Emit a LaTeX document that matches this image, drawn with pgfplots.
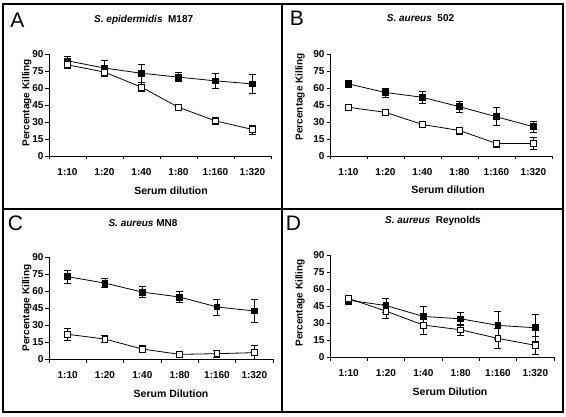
\documentclass[border=0pt]{standalone}
\usepackage{pgfplots}
\pgfplotsset{compat=1.18}
\usepackage{fontspec}
\setmainfont{Liberation Sans}
\begin{document}
\begin{tikzpicture}
\useasboundingbox (0pt,0pt) rectangle (566pt,416pt);
\pgfplotsset{
  panel/.style={
    scale only axis, anchor=south west,
    xmin=-0.5, xmax=5.5, ymin=0, ymax=90,
    axis x line=bottom, axis y line=left,
    axis line style={-, line width=0.9pt},
    ytick={0,15,...,90},
    xtick={0,...,5},
    xticklabels={1:10,1:20,1:40,1:80,1:160,1:320},
    minor xtick={-0.5,0.5,1.5,2.5,3.5,4.5,5.5},
    tick align=outside,
    every major x tick/.append style={draw=none},
    every minor x tick/.append style={line width=0.8pt, black},
    minor tick length=3.5pt,
    every major y tick/.append style={line width=0.8pt, black},
    major tick length=3.5pt,
    /pgf/number format/assume math mode=true,
    ticklabel style={font=\bfseries\fontsize{10}{11}\selectfont},
    xticklabel style={yshift=-5pt},
    yticklabel style={xshift=1.5pt},
    clip=false,
  },
  filled/.style={black, line width=0.8pt, mark=square*, mark size=2.9pt,
    mark options={solid, fill=black},
    error bars/.cd, y dir=both, y explicit,
    error bar style={line width=0.8pt, black},
    error mark options={rotate=90, mark size=3.5pt, line width=0.8pt}},
  open/.style={black, line width=0.8pt, mark=square*, mark size=2.9pt,
    mark options={solid, fill=white},
    error bars/.cd, y dir=both, y explicit,
    error bar style={line width=0.8pt, black},
    error mark options={rotate=90, mark size=3.5pt, line width=0.8pt}},
}
% frames
\draw[line width=1.1pt] (3pt,4pt) rectangle (563pt,412pt);
\draw[line width=1.1pt] (282pt,4pt) -- (282pt,412pt);
\draw[line width=1.1pt] (3pt,207pt) -- (563pt,207pt);

\newcommand{\lbl}{\fontsize{10.5}{12}\selectfont\bfseries}
\newcommand{\ylbl}{\fontsize{10}{12}\selectfont\bfseries}
\newcommand{\ttl}{\fontsize{10}{12}\selectfont\bfseries}
\newcommand{\letter}{\fontsize{21}{24}\selectfont}

% Panel A
\begin{axis}[panel, at={(49pt,260pt)}, width=222pt, height=102pt]
\addplot+[filled] coordinates {(0,84)+-(0,4) (1,77.6)+-(0,7) (2,73)+-(0,8) (3,69.6)+-(0,4) (4,66.3)+-(0,7) (5,63.6)+-(0,8)};
\addplot+[open] coordinates {(0,80.5)+-(0,3) (1,74)+-(0,3) (2,60.7)+-(0,4) (3,43)+-(0,2) (4,31)+-(0,3) (5,23.4)+-(0,4)};
\end{axis}
\node at (17.5pt,395.5pt) {\letter A};
\node at (143.7pt,396pt) {\ttl\itshape S. epidermidis\upshape\ \ M187};
\node at (171pt,225.3pt) {\lbl Serum dilution};
\node[rotate=90] at (26.7pt,313.2pt) {\ylbl Percentage Killing};

% Panel B
\begin{axis}[panel, at={(330pt,260pt)}, width=222pt, height=102pt]
\addplot+[filled] coordinates {(0,63.6)+-(0,3) (1,56)+-(0,4) (2,51.8)+-(0,5) (3,43.5)+-(0,5) (4,34.6)+-(0,8) (5,25.8)+-(0,5)};
\addplot+[open] coordinates {(0,43)+-(0,1) (1,38.5)+-(0,2) (2,27.8)+-(0,3) (3,22.5)+-(0,3) (4,11)+-(0,3) (5,11)+-(0,5)};
\end{axis}
\node at (297pt,397.5pt) {\letter B};
\node at (420.5pt,397.7pt) {\ttl\itshape S. aureus\upshape\ \ 502};
\node at (448pt,226pt) {\lbl Serum dilution};
\node[rotate=90] at (300pt,319.3pt) {\ylbl Percentage Killing};

% Panel C
\begin{axis}[panel, at={(49pt,57pt)}, width=224pt, height=102pt]
\addplot+[filled] coordinates {(0,72.6)+-(0,6) (1,67)+-(0,4) (2,59)+-(0,5) (3,54.7)+-(0,5) (4,45.9)+-(0,7) (5,42.4)+-(0,10)};
\addplot+[open] coordinates {(0,21.8)+-(0,5) (1,17.6)+-(0,3) (2,8.8)+-(0,3) (3,4.1)+-(0,3) (4,4.7)+-(0,3) (5,5.6)+-(0,6)};
\end{axis}
\node at (15.5pt,192.5pt) {\letter C};
\node at (143pt,193pt) {\ttl\itshape S. aureus\upshape\ MN8};
\node at (171pt,22.3pt) {\lbl Serum Dilution};
\node[rotate=90] at (26.7pt,108pt) {\ylbl Percentage Killing};

% Panel D
\begin{axis}[panel, at={(330pt,59pt)}, width=224pt, height=102pt]
\addplot+[filled] coordinates {(0,50.1)+-(0,4) (1,45.4)+-(0,6) (2,35.8)+-(0,9) (3,33.7)+-(0,6) (4,27.9)+-(0,12) (5,25.8)+-(0,12)};
\addplot+[open] coordinates {(0,51.6)+-(0,2) (1,40.5)+-(0,6) (2,28.2)+-(0,8) (3,24)+-(0,5) (4,16.4)+-(0,9) (5,10.3)+-(0,8)};
\end{axis}
\node at (293.5pt,193pt) {\letter D};
\node at (433pt,195pt) {\ttl\itshape S. aureus\upshape\ \ Reynolds};
\node at (450pt,24.7pt) {\lbl Serum Dilution};
\node[rotate=90] at (300pt,113pt) {\ylbl Percentage Killing};
\end{tikzpicture}
\end{document}
